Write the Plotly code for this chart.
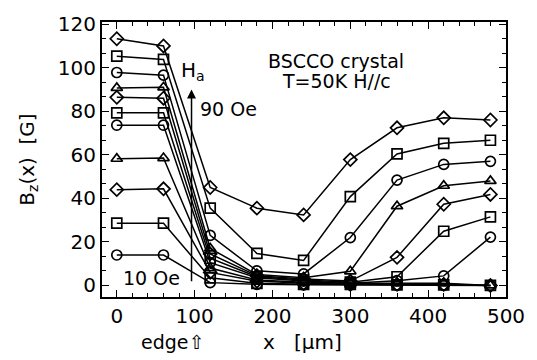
import plotly.graph_objects as go

x_um = [0, 60, 120, 180, 240, 300, 360, 420, 480]

# Bz(x) profiles, from lowest applied field (10 Oe) to highest (90 Oe)
curves = [
    [14.0, 14.0, 1.3, 0.5, 0.3, 0.3, 0.2, 0.0, 0.0],
    [28.6, 28.6, 3.5, 1.0, 0.5, 0.5, 0.3, 0.3, 0.0],
    [44.0, 44.4, 6.0, 2.0, 1.0, 0.5, 0.5, 0.5, 0.0],
    [58.2, 58.5, 8.0, 2.5, 1.5, 1.0, 1.0, 1.0, 0.0],
    [73.6, 73.6, 10.5, 3.5, 2.0, 1.0, 2.2, 4.4, 22.2],
    [79.3, 79.3, 12.5, 4.0, 2.5, 1.5, 4.0, 24.9, 31.5],
    [86.4, 86.0, 14.5, 4.5, 3.0, 2.0, 12.9, 37.3, 41.8],
    [90.7, 91.0, 17.0, 5.0, 3.5, 6.5, 36.4, 45.8, 48.0],
    [97.8, 96.6, 23.0, 6.7, 5.3, 22.0, 48.4, 55.6, 57.0],
    [105.3, 103.8, 35.5, 14.7, 11.5, 40.8, 60.4, 65.3, 66.7],
    [113.3, 110.0, 45.0, 35.5, 32.4, 57.8, 72.4, 77.0, 76.0],
]
symbols = ["circle-open", "square-open", "diamond-open", "triangle-up-open"]

x_ticks = [0, 100, 200, 300, 400, 500]
y_ticks = [0, 20, 40, 60, 80, 100, 120]

FONT = "DejaVu Sans, Liberation Sans, Arial, sans-serif"

fig = go.Figure()
for i, ys in enumerate(curves):
    fig.add_trace(go.Scatter(
        x=x_um, y=ys, mode="lines+markers",
        name=f"curve {i+1}",
        line=dict(color="black", width=1.5),
        marker=dict(symbol=symbols[i % 4], size=10, color="black",
                    line=dict(color="black", width=1.7)),
        showlegend=False, cliponaxis=False,
    ))

axis_common = dict(
    showgrid=False, zeroline=False, showline=True, linecolor="black",
    linewidth=2, mirror="ticks", ticks="inside", ticklen=7,
    tickwidth=1.3, tickcolor="black", ticklabeloverflow="allow",
    tickfont=dict(family=FONT, size=20, color="black"),
)

fig.update_xaxes(range=[-19, 500], tickvals=x_ticks,
                 minor=dict(dtick=20, tick0=0, ticks="inside", ticklen=4,
                            tickcolor="black", tickwidth=1),
                 **axis_common)
fig.update_yaxes(range=[-5.3, 121], tickvals=y_ticks,
                 minor=dict(dtick=20/3, tick0=0, ticks="inside", ticklen=4,
                            tickcolor="black", tickwidth=1),
                 title=dict(text="B<sub>z</sub>(x)  [G]",
                            font=dict(family=FONT, size=20, color="black"),
                            standoff=18),
                 **axis_common)

txt = dict(family=FONT, size=20, color="black")
small = dict(family=FONT, size=19, color="black")
ann = [
    dict(x=0.496, y=-0.162, xref="paper", yref="paper", text="x   [μm]",
         showarrow=False, font=txt, xanchor="center", yanchor="middle"),
    dict(x=115, y=-0.162, xref="x", yref="paper", text="edge⇧",
         showarrow=False, font=small, xanchor="right", yanchor="middle"),
    dict(x=511, y=-0.162, xref="x", yref="paper", text="center⇧",
         showarrow=False, font=small, xanchor="right", yanchor="middle"),
    dict(x=282, y=103.2, xref="x", yref="y", text="BSCCO crystal",
         showarrow=False, font=small, xanchor="center", yanchor="middle"),
    dict(x=282, y=93.8, xref="x", yref="y", text="T=50K H//c",
         showarrow=False, font=small, xanchor="center", yanchor="middle"),
    dict(x=80, y=98.5, xref="x", yref="y", text="H<sub>a</sub>",
         showarrow=False, font=txt, xanchor="left", yanchor="middle"),
    dict(x=104, y=81, xref="x", yref="y", text="90 Oe",
         showarrow=False, font=small, xanchor="left", yanchor="middle"),
    dict(x=5, y=3.6, xref="x", yref="y", text="10 Oe",
         showarrow=False, font=small, xanchor="left", yanchor="middle"),
    dict(x=96, y=90, xref="x", yref="y", ax=96, ay=1.3, axref="x", ayref="y",
         text="", showarrow=True, arrowhead=2, arrowsize=1.2, arrowwidth=1.5,
         arrowcolor="black"),
]

fig.update_layout(
    width=537, height=360,
    margin=dict(l=102, r=30, t=13, b=63),
    paper_bgcolor="white", plot_bgcolor="white",
    font=dict(family=FONT, color="black"),
    annotations=ann,
)

# remove the browser's default 8px body margin so the figure sits at (0, 0)
fig.write_html("out.html",
               config={"displayModeBar": False},
               post_script="document.body.style.margin='0px';")
